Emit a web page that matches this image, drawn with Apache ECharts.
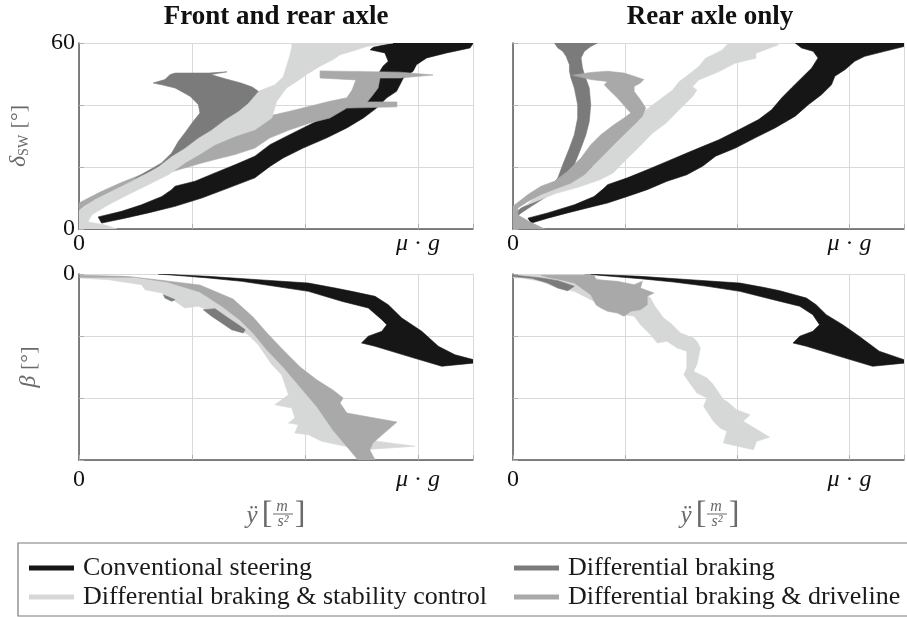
<!DOCTYPE html>
<html>
<head>
<meta charset="utf-8">
<script src="https://cdn.jsdelivr.net/npm/echarts@6/dist/echarts.min.js"></script>
<style>
  html, body { margin: 0; padding: 0; background: #ffffff; }
  #chart { width: 907px; height: 617px; }
</style>
</head>
<body>
<div id="chart"></div>
<script>
// ---- categories, ticks and labels -------------------------------------
const seriesNames = [
  'Conventional steering',
  'Differential braking',
  'Differential braking & stability control',
  'Differential braking & driveline'
];
const seriesColors = ['#161616', '#7b7b7b', '#d6d8d7', '#a9a9a9'];
const panelTitles = ['Front and rear axle', 'Rear axle only'];
const xTickValues = [0, 9];                    // 0 and the friction limit
const xTickLabels = ['0', '{i|μ} · {i|g}'];
const steerTickValues = [0, 60];
const steerTickLabels = ['0', '60'];
const slipTickValues = [0];
const slipTickLabels = ['0'];

// ---- envelopes: [lateral acceleration, value] outlines ------------------
// steering wheel angle, front and rear axle
const swFR_conventional = [[
  [0.51,3.9],[1.13,5.7],[1.66,7.8],[2.20,10.5],[2.46,12.7],[2.55,13.8],[3.08,15.4],[3.61,18.1],
  [4.14,20.7],[4.67,23.5],[5.07,27.2],[5.51,29.9],[5.95,32.6],[6.40,35.3],[6.84,38.5],[7.19,41.7],
  [7.46,43.9],[7.73,46.5],[7.99,50.9],[8.07,52.5],[8.21,54.1],[8.12,56.8],[7.73,57.8],[7.81,58.6],
  [8.34,60],[10.47,60],[10.38,58.4],[9.76,56.8],[9.23,55.2],[8.96,53.0],[8.87,50.9],[8.61,48.7],
  [8.52,46.5],[8.43,44.4],[8.17,42.3],[7.90,39.0],[7.55,35.8],[7.11,32.6],[6.58,29.4],[5.95,26.1],
  [5.42,22.9],[5.07,20.2],[4.67,16.5],[3.96,13.2],[3.26,10.0],[2.55,7.3],[1.84,5.2],[1.22,3.5],[0.60,1.9]
]];
const swFR_braking = [[
  [1.97,47.1],[2.28,48.2],[2.42,49.8],[2.55,50.3],[3.45,50.3],[3.93,50.7],[3.50,49.8],[3.90,48.4],
  [4.30,47.1],[4.60,45.8],[4.76,44.4],[4.49,40.6],[4.23,38.0],[3.88,35.3],[3.52,32.0],[3.17,29.4],
  [2.81,26.1],[2.46,23.5],[2.11,20.2],[1.80,18.1],[1.50,16.4],[2.19,21.3],[2.46,24.5],[2.64,28.3],
  [2.81,31.0],[3.03,34.7],[3.21,37.4],[3.17,40.1],[2.95,42.8],[2.55,45.5],[2.20,46.5]
]];
const swFR_stability = [[
  [0.03,6.2],[0.42,9.4],[0.96,12.7],[1.49,15.9],[1.80,18.1],[2.11,20.2],[2.46,23.5],[2.81,26.1],
  [3.17,29.4],[3.52,32.0],[3.88,35.3],[4.23,38.0],[4.49,40.6],[4.76,44.4],[4.98,45.5],[5.20,46.5],
  [5.42,49.0],[5.52,52.9],[5.60,56.1],[5.65,58.7],[5.65,60],[8.34,60],[7.64,58.9],[7.27,57.4],
  [6.93,56.2],[6.74,54.6],[6.40,52.5],[6.04,49.8],[5.78,47.6],[5.51,45.5],[5.25,41.2],[5.12,35.8],
  [4.67,32.0],[4.14,29.9],[3.61,27.2],[3.26,24.5],[2.81,21.3],[2.37,17.5],[1.84,14.3],[1.31,11.1],
  [0.78,7.8],[0.34,4.6],[0.24,2.3],[0.69,1.3],[1.01,0],[0,0],[0,5.8]
]];
const swFR_driveline = [[
  [0,8.4],[0.56,11.9],[1.09,14.8],[1.62,17.4],[1.88,19.0],[3.21,25.5],[4.27,30.6],[5.07,36.5],
  [5.60,38.0],[6.13,39.6],[6.66,41.2],[7.11,42.3],[7.25,44.8],[7.35,48.1],[6.40,48.7],[6.40,51.0],
  [8.52,50.6],[9.40,49.7],[8.52,48.7],[7.99,48.7],[7.94,45.5],[7.78,42.9],[7.65,41.0],[8.44,41.0],
  [8.44,39.4],[7.11,39.0],[6.66,35.8],[6.13,34.2],[5.60,32.0],[5.07,29.4],[4.67,26.1],[4.14,24.0],
  [3.61,22.4],[3.26,21.3],[2.50,18.6],[1.88,16.8],[1.09,13.4],[0.56,10.2],[0.16,7.6],[0,6.0]
]];

// steering wheel angle, rear axle only
const swR_conventional = [[
  [0.40,3.5],[0.93,5.2],[1.64,7.8],[2.17,10.5],[2.44,13.2],[2.53,14.3],[3.06,16.5],[3.59,19.1],
  [4.12,21.8],[4.65,24.5],[4.97,26.1],[5.51,28.8],[6.04,32.0],[6.57,35.3],[6.92,38.5],[7.19,42.3],
  [7.45,45.5],[7.72,48.7],[7.99,51.9],[8.16,55.2],[8.03,57.3],[7.72,58.4],[7.55,60],[10.47,60],
  [10.47,58.9],[9.94,57.3],[9.41,55.7],[9.14,54.1],[8.88,51.4],[8.61,49.3],[8.52,46.5],[8.25,43.3],
  [7.90,40.1],[7.55,36.4],[7.01,32.6],[6.48,29.4],[5.95,26.1],[5.42,23.5],[5.08,20.3],[4.65,17.5],
  [4.12,15.4],[3.59,12.7],[3.06,10.5],[2.53,8.4],[1.99,6.8],[1.46,5.2],[0.93,3.5],[0.49,1.9]
]];
const swR_braking = [[
  [1.11,60],[1.20,58.4],[1.33,57.3],[1.42,55.7],[1.51,53.0],[1.51,50.9],[1.55,48.7],[1.64,45.5],
  [1.73,40.1],[1.73,35.8],[1.64,30.4],[1.51,26.1],[1.33,20.7],[1.20,16.5],[0.93,12.2],[0.58,8.9],
  [0.22,6.8],[0,4.6],[0,3.0],[0.22,5.2],[0.49,7.3],[0.84,10.0],[1.20,13.2],[1.42,16.5],[1.64,20.7],
  [1.82,26.1],[1.95,30.4],[2.04,34.7],[2.08,40.1],[2.04,45.5],[1.91,49.8],[1.86,51.9],[1.82,55.2],
  [1.91,57.3],[2.08,58.9],[2.26,60]
]];
const swR_stability = [[
  [5.77,60],[7.02,60],[7.10,59.4],[6.50,56.7],[6.50,55.1],[5.94,53.5],[5.50,50.7],[4.97,48.1],
  [4.80,45.9],[4.92,44.8],[4.80,42.7],[4.44,38.4],[4.09,34.1],[3.73,30.9],[3.38,26.5],[3.02,22.3],
  [2.67,18.0],[2.31,15.8],[1.78,13.6],[1.16,11.5],[0.72,9.4],[0.36,7.7],[0.72,11.5],[1.25,14.7],
  [1.78,16.9],[2.14,20.1],[2.49,24.4],[2.85,28.7],[3.20,33.0],[3.56,38.4],[3.91,41.6],[4.27,44.8],
  [4.44,47.5],[4.62,49.1],[4.97,52.4],[5.15,55.1],[5.59,57.7]
]];
const swR_driveline = [[
  [0.05,7.8],[0.40,11.1],[0.75,13.8],[1.11,15.4],[1.46,18.6],[1.82,22.9],[2.08,27.2],[2.35,30.4],
  [2.70,33.6],[2.97,35.8],[3.15,37.4],[2.79,42.3],[2.61,44.4],[2.44,46.5],[2.53,47.6],[2.08,48.2],
  [1.60,49.6],[2.08,50.5],[2.53,50.9],[2.97,50.3],[3.24,49.3],[3.50,48.2],[3.41,47.1],[3.24,46.0],
  [3.24,44.4],[3.41,41.7],[3.55,39.0],[3.46,36.4],[3.24,33.6],[2.97,30.4],[2.70,27.2],[2.44,24.0],
  [2.17,20.7],[1.91,17.5],[1.55,14.8],[1.20,13.2],[0.75,11.1],[0.40,8.9],[0.13,6.8],[0.13,4.5],
  [0.45,2.3],[0.85,0],[0,0],[0,7.4]
]];

// side slip angle, front and rear axle
const slipFR_conventional = [[
  [2.10,0],[3.43,-0.19],[4.76,-0.46],[6.09,-0.73],[6.80,-1.13],[7.24,-1.40],[7.86,-1.80],[8.21,-2.48],
  [8.57,-3.55],[9.10,-4.62],[9.54,-5.83],[9.98,-6.51],[10.47,-6.91],[10.49,-7.18],[9.63,-7.44],
  [8.74,-6.64],[7.86,-5.83],[7.50,-5.56],[7.68,-5.02],[8.04,-4.62],[8.17,-4.09],[8.04,-3.69],
  [7.68,-2.74],[6.97,-2.20],[6.09,-1.40],[5.20,-0.99],[4.32,-0.59],[3.43,-0.32],[2.55,-0.10]
]];
const slipFR_braking = [
  [[3.30,-2.88],[3.61,-2.80],[3.96,-3.55],[4.23,-4.09],[4.41,-4.49],[4.36,-4.76],[4.05,-4.49],[3.79,-3.95],[3.52,-3.41]],
  [[2.24,-1.67],[2.55,-2.07],[2.46,-2.20],[2.28,-1.94]]
];
const slipFR_stability = [[
  [0.03,-0.32],[0.78,-0.46],[1.66,-0.86],[1.75,-1.27],[2.20,-1.53],[2.55,-2.20],[2.81,-2.74],[3.17,-2.60],
  [3.61,-3.15],[4.05,-4.09],[4.49,-4.90],[4.76,-5.70],[4.94,-6.51],[5.12,-7.31],[5.38,-8.12],[5.47,-8.93],
  [5.56,-9.73],[5.20,-10.54],[5.65,-10.81],[5.73,-11.61],[5.56,-12.02],[5.82,-12.15],[5.73,-12.82],
  [6.09,-12.96],[6.44,-13.49],[7.50,-14.17],[7.86,-14.11],[8.92,-13.89],[7.70,-13.40],[7.00,-11.00],
  [6.30,-9.50],[5.60,-7.80],[5.15,-6.10],[4.80,-4.76],[4.40,-3.60],[3.90,-2.30],[3.20,-1.20],
  [2.20,-0.55],[1.00,-0.22],[0.03,-0.18]
]];
const slipFR_driveline = [[
  [0.03,-0.10],[1.22,-0.19],[2.10,-0.48],[3.21,-0.89],[4.09,-2.02],[4.62,-3.47],[4.99,-4.76],[5.42,-6.13],
  [5.87,-7.50],[6.32,-8.55],[6.74,-9.35],[7.01,-10.00],[6.93,-10.40],[7.11,-11.21],[8.44,-11.94],
  [7.80,-13.63],[7.72,-14.19],[7.86,-15],[7.41,-15],[6.74,-12.58],[6.32,-10.73],[5.87,-9.11],
  [5.42,-7.50],[4.99,-6.13],[4.62,-4.76],[4.27,-3.71],[3.82,-2.66],[3.21,-1.45],[2.34,-0.65],
  [1.43,-0.24],[0.03,-0.27]
]];

// side slip angle, rear axle only
const slipR_conventional = [[
  [1.91,0],[3.41,-0.19],[4.74,-0.46],[6.07,-0.73],[6.69,-1.07],[7.14,-1.35],[7.85,-1.94],[8.11,-2.48],
  [8.38,-3.28],[8.82,-4.09],[9.26,-5.02],[9.80,-6.23],[10.46,-6.91],[10.49,-7.18],[9.62,-7.44],
  [8.73,-6.64],[7.85,-5.83],[7.49,-5.56],[7.67,-5.02],[8.02,-4.62],[8.20,-4.09],[8.02,-3.28],
  [7.67,-2.60],[6.96,-2.07],[6.07,-1.40],[5.19,-0.99],[4.30,-0.65],[3.41,-0.38],[2.53,-0.16]
]];
const slipR_braking = [[
  [0,-0.08],[0.75,-0.32],[1.20,-0.54],[1.64,-0.99],[1.46,-1.35],[1.20,-1.13],[0.93,-0.73],[0.5,-0.35],[0,-0.2]
]];
const slipR_stability = [[
  [0,-0.10],[2.08,-0.06],[2.17,-0.32],[3.38,-1.29],[3.68,-1.94],[3.77,-2.48],[4.03,-3.55],[4.21,-3.95],
  [4.48,-4.76],[4.83,-5.16],[4.92,-5.43],[5.01,-5.97],[4.92,-7.31],[4.83,-7.85],[5.19,-8.39],[5.36,-8.93],
  [5.63,-10.14],[5.72,-10.27],[5.98,-10.94],[6.34,-11.35],[6.16,-11.88],[6.87,-13.17],[6.52,-13.49],
  [6.43,-14.17],[5.63,-13.63],[5.72,-12.69],[5.54,-12.42],[5.36,-11.88],[5.10,-10.67],[5.19,-10.00],
  [4.92,-9.60],[4.57,-8.12],[4.65,-7.58],[4.65,-6.23],[4.39,-5.97],[4.12,-5.43],[3.86,-5.56],[3.68,-4.90],
  [3.41,-4.09],[3.24,-3.41],[2.97,-3.28],[2.08,-2.07],[1.64,-1.40],[1.20,-1.13],[0.75,-0.59],[0.22,-0.32],[0,-0.32]
]];
const slipR_driveline = [[
  [0.75,-0.10],[2.17,-0.10],[2.22,-0.46],[2.79,-0.59],[3.24,-0.86],[3.46,-0.59],[3.41,-1.13],[3.77,-1.53],
  [3.59,-1.80],[3.59,-2.48],[3.41,-2.88],[3.15,-3.01],[2.97,-3.41],[2.79,-3.15],[2.53,-3.01],[2.35,-2.74],
  [2.22,-2.48],[2.08,-1.67],[1.64,-0.73],[1.28,-0.46],[0.93,-0.27]
]];

// ---- layout ------------------------------------------------------------
const FONT = 'Liberation Serif';
const panels = [
  { left: 79,  top: 43,  kind: 'steer', labels: true,
    shapes: [swFR_conventional, swFR_braking, swFR_stability, swFR_driveline], z: [1, 4, 3, 2] },
  { left: 513, top: 43,  kind: 'steer', labels: false,
    shapes: [swR_conventional, swR_braking, swR_stability, swR_driveline], z: [1, 2, 3, 4] },
  { left: 79,  top: 274, kind: 'slip',  labels: true,
    shapes: [slipFR_conventional, slipFR_braking, slipFR_stability, slipFR_driveline], z: [1, 3, 2, 4] },
  { left: 513, top: 274, kind: 'slip',  labels: false,
    shapes: [slipR_conventional, slipR_braking, slipR_stability, slipR_driveline], z: [1, 3, 2, 4] }
];

const gridLine = { show: true, lineStyle: { color: '#d9d9d9', width: 1 } };
const axisLine = { show: true, onZero: false, lineStyle: { color: '#5a5a5a', width: 1.5 } };
const innerTick = { show: true, inside: true, length: 5, lineStyle: { color: '#b0b0b0', width: 1 } };

const grids = panels.map(p => ({ left: p.left, top: p.top, width: 394, height: 186, containLabel: false }));

const xAxes = panels.map((p, i) => ({
  type: 'value', gridIndex: i, min: 0, max: 10.46, interval: 3,
  axisLine: axisLine, axisTick: innerTick, splitLine: gridLine,
  axisLabel: {
    margin: p.kind === 'steer' ? 3 : 8,
    fontFamily: FONT, fontSize: 24, color: '#111',
    formatter: v => { const k = xTickValues.indexOf(v); return k < 0 ? '' : xTickLabels[k]; },
    rich: { i: { fontFamily: FONT, fontSize: 24, fontStyle: 'italic', color: '#111' } }
  }
}));

const yAxes = panels.map((p, i) => {
  const steer = p.kind === 'steer';
  const vals = steer ? steerTickValues : slipTickValues;
  const txt = steer ? steerTickLabels : slipTickLabels;
  return {
    type: 'value', gridIndex: i,
    min: steer ? 0 : -15, max: steer ? 60 : 0, interval: steer ? 20 : 5,
    axisLine: axisLine, axisTick: innerTick, splitLine: gridLine,
    axisLabel: {
      show: p.labels, margin: 4, fontFamily: FONT, fontSize: 24, color: '#111',
      formatter: v => { const k = vals.indexOf(v); return k < 0 ? '' : txt[k]; }
    },
    name: p.labels ? (steer ? '{g|δ}{s|SW} [°]' : '{g|β} [°]') : '',
    nameLocation: 'middle', nameRotate: 90,
    nameGap: steer ? 48 : 38,
    nameTextStyle: {
      fontFamily: FONT, fontSize: 22, color: '#6a6a6a',
      rich: {
        g: { fontFamily: FONT, fontSize: 24, fontStyle: 'italic', color: '#6a6a6a' },
        s: { fontFamily: FONT, fontSize: 14, color: '#6a6a6a', verticalAlign: 'bottom', padding: [6, 1, 0, 0] }
      }
    }
  };
});

// one custom series per panel and configuration, each drawing filled outlines
const series = [];
panels.forEach((p, pi) => {
  p.shapes.forEach((polys, k) => {
    const color = seriesColors[k];
    series.push({
      type: 'custom', name: seriesNames[k],
      xAxisIndex: pi, yAxisIndex: pi, z: 2 + p.z[k], clip: true, silent: true,
      itemStyle: { color: color },
      data: polys.map(poly => poly[0]),
      renderItem: (params, api) => ({
        type: 'polygon',
        shape: { points: polys[params.dataIndex].map(pt => api.coord(pt)) },
        style: { fill: color, stroke: color, lineWidth: 0.6 }
      })
    });
  });
});

// acceleration axis label: y-double-dot [m / s^2]
function accelName(cx) {
  const c = '#6a6a6a';
  return {
    type: 'group', x: cx, y: 0, children: [
      { type: 'text', x: -24, y: 516, style: { text: 'ÿ', fontFamily: FONT, fontSize: 25, fontStyle: 'italic', fill: c, align: 'center', verticalAlign: 'middle' } },
      { type: 'text', x: -9, y: 515, style: { text: '[', fontFamily: FONT, fontSize: 32, fill: c, align: 'center', verticalAlign: 'middle' } },
      { type: 'text', x: 6, y: 507, style: { text: 'm', fontFamily: FONT, fontSize: 16, fontStyle: 'italic', fill: c, align: 'center', verticalAlign: 'middle' } },
      { type: 'line', shape: { x1: -3, y1: 514, x2: 17, y2: 514 }, style: { stroke: c, lineWidth: 1 } },
      { type: 'text', x: 7, y: 522, style: { text: 's²', fontFamily: FONT, fontSize: 16, fontStyle: 'italic', fill: c, align: 'center', verticalAlign: 'middle' } },
      { type: 'text', x: 24, y: 515, style: { text: ']', fontFamily: FONT, fontSize: 32, fill: c, align: 'center', verticalAlign: 'middle' } }
    ]
  };
}

const legendBase = {
  orient: 'vertical', icon: 'rect', itemWidth: 45, itemHeight: 5, itemGap: 3, padding: 0,
  selectedMode: false,
  textStyle: { fontFamily: FONT, fontSize: 26, color: '#1a1a1a', padding: [0, 0, 0, 4] }
};

const option = {
  animation: false,
  backgroundColor: '#ffffff',
  textStyle: { fontFamily: FONT },
  grid: grids,
  xAxis: xAxes,
  yAxis: yAxes,
  legend: [
    Object.assign({}, legendBase, { left: 29, top: 555,
      data: [0, 2].map(k => ({ name: seriesNames[k], itemStyle: { color: seriesColors[k] } })) }),
    Object.assign({}, legendBase, { left: 514, top: 555,
      data: [1, 3].map(k => ({ name: seriesNames[k], itemStyle: { color: seriesColors[k] } })) })
  ],
  graphic: [
    { type: 'text', x: 276, y: 17, style: { text: panelTitles[0], fontFamily: FONT, fontSize: 27, fontWeight: 'bold', fill: '#111', align: 'center', verticalAlign: 'middle' } },
    { type: 'text', x: 710, y: 17, style: { text: panelTitles[1], fontFamily: FONT, fontSize: 27, fontWeight: 'bold', fill: '#111', align: 'center', verticalAlign: 'middle' } },
    accelName(276),
    accelName(710),
    { type: 'rect', shape: { x: 18, y: 543, width: 900, height: 73 }, style: { fill: 'none', stroke: '#7a7a7a', lineWidth: 1.2 }, z: -1 }
  ],
  series: series
};

const chart = echarts.init(document.getElementById('chart'), null, { renderer: 'canvas' });
chart.setOption(option);
</script>
</body>
</html>
